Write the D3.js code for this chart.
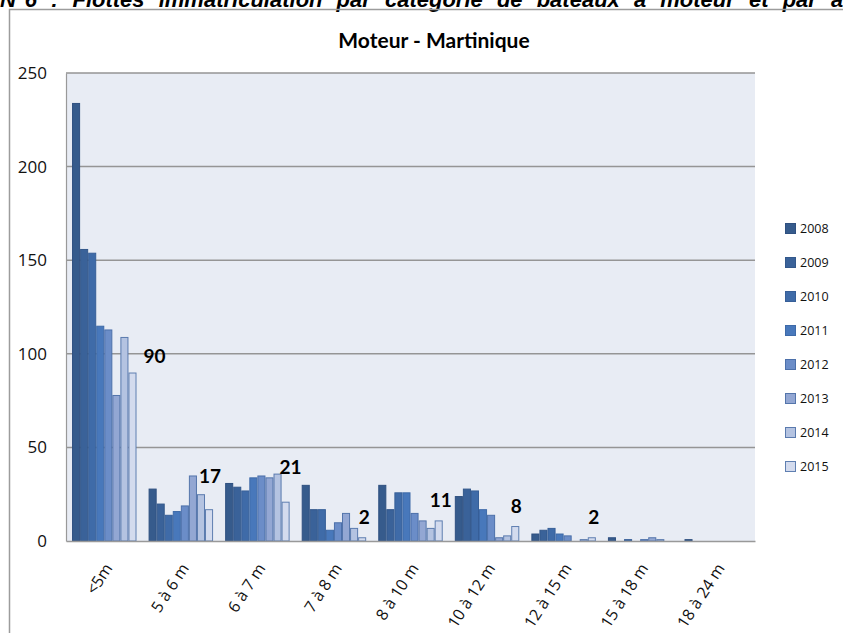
<!DOCTYPE html>
<html>
<head>
<meta charset="utf-8">
<script src="https://cdn.jsdelivr.net/npm/d3@7"></script>
<style>
  body { margin: 0; background: #fff; }
  svg { display: block; }
</style>
</head>
<body>
<svg width="843" height="633"></svg>
<script>
// categories and series
const categories = ["<5m", "5 à 6 m", "6 à 7 m", "7 à 8 m", "8 à 10 m", "10 à 12 m", "12 à 15 m", "15 à 18 m", "18 à 24 m"];
const years = ["2008", "2009", "2010", "2011", "2012", "2013", "2014", "2015"];
const v2008 = [234, 28, 31, 30, 30, 24, 4, 2, 1];
const v2009 = [156, 20, 29, 17, 17, 28, 6, 0, 0];
const v2010 = [154, 14, 27, 17, 26, 27, 7, 1, 0];
const v2011 = [115, 16, 34, 6, 26, 17, 4, 0, 0];
const v2012 = [113, 19, 35, 10, 15, 14, 3, 1, 0];
const v2013 = [78, 35, 34, 15, 11, 2, 0, 2, 0];
const v2014 = [109, 25, 36, 7, 7, 3, 1, 1, 0];
const v2015 = [90, 17, 21, 2, 11, 8, 2, 0, 0];
const yTicks = [0, 50, 100, 150, 200, 250];

const series = [v2008, v2009, v2010, v2011, v2012, v2013, v2014, v2015];

// look
const fills = ["#365b8c", "#3a6299", "#3f6ba8", "#4878bb", "#6b8dc8", "#93a7d3", "#b4c3e1", "#d3dbee"];
const strokes = ["#2f5080", "#33588b", "#375f98", "#3e6aa8", "#4c70aa", "#5475ab", "#5a7aae", "#5f7fb1"];
// manual nudges of the data labels (dx, dy from the 2015 bar top)
const labelNudge = [[22, 16], [1, 33], [5, 34], [2, 20], [2, 20], [1, 20], [2, 20]];

const svg = d3.select("svg");
const font = "'Open Sans', sans-serif";

// heading cut at the top of the picture
svg.append("text")
   .attr("x", 0)
   .attr("y", 7)
   .attr("font-family", "'Liberation Sans', Arial, sans-serif")
   .attr("font-size", "22px")
   .attr("font-weight", "bold")
   .attr("font-style", "italic")
   .attr("word-spacing", "8px")
   .attr("fill", "#000")
   .text("N°6 : Flottes immatriculation par catégorie de bateaux à moteur et par an");

// chart frame
svg.append("path")
   .attr("d", "M9.5,633 L9.5,9.5 L843,9.5")
   .attr("fill", "none")
   .attr("stroke", "#9c9c9c")
   .attr("stroke-width", 1.5);

// title
svg.append("text")
   .attr("x", 434)
   .attr("y", 48)
   .attr("text-anchor", "middle")
   .attr("font-family", "Lato, sans-serif")
   .attr("font-size", "21px")
   .attr("font-weight", "bold")
   .attr("fill", "#000")
   .text("Moteur - Martinique");

const plot = { left: 66, right: 755, top: 73, bottom: 541 };

const x0 = d3.scaleBand()
   .domain(categories)
   .range([plot.left, plot.right])
   .paddingInner(1.5 / 9.5)
   .paddingOuter(0.75 / 9.5);

const x1 = d3.scaleBand()
   .domain(years)
   .range([0, x0.bandwidth()]);

const y = d3.scaleLinear()
   .domain([0, 250])
   .range([plot.bottom, plot.top]);

// plot background
svg.append("rect")
   .attr("x", plot.left)
   .attr("y", plot.top)
   .attr("width", plot.right - plot.left)
   .attr("height", plot.bottom - plot.top)
   .attr("fill", "#e8ecf4");

// gridlines
svg.append("g")
   .selectAll("line")
   .data(yTicks.filter(d => d > 0))
   .join("line")
   .attr("x1", plot.left)
   .attr("x2", plot.right)
   .attr("y1", d => y(d))
   .attr("y2", d => y(d))
   .attr("stroke", "#959595")
   .attr("stroke-width", 1.5);

// y axis labels
const yAxis = svg.append("g")
   .attr("transform", `translate(${plot.left},0)`)
   .call(d3.axisLeft(y).tickValues(yTicks).tickSize(0).tickPadding(19));
yAxis.select(".domain").attr("stroke", "#999").attr("stroke-width", 1.2);
yAxis.selectAll("text")
   .attr("font-family", font)
   .attr("font-size", "17px")
   .attr("fill", "#111");

// bars
const groups = svg.append("g")
   .selectAll("g")
   .data(years)
   .join("g")
   .attr("fill", (d, i) => fills[i])
   .attr("stroke", (d, i) => strokes[i]);

groups.selectAll("rect")
   .data((yr, i) => series[i].map((v, j) => ({ cat: categories[j], yr, v })))
   .join("rect")
   .filter(d => d.v > 0)
   .attr("x", d => x0(d.cat) + x1(d.yr) + 0.5)
   .attr("y", d => y(d.v) + 0.5)
   .attr("width", x1.bandwidth() - 1)
   .attr("height", d => y(0) - y(d.v) - 0.5)
   .attr("stroke-width", 1);

// x axis
const xAxis = svg.append("g")
   .attr("transform", `translate(0,${plot.bottom})`)
   .call(d3.axisBottom(x0).tickSize(0).tickFormat(""));
xAxis.select(".domain").attr("stroke", "#999").attr("stroke-width", 1.5);

svg.append("g")
   .selectAll("text")
   .data(categories)
   .join("text")
   .attr("transform", d => `translate(${x0(d) + x0.bandwidth() / 2 + 4},${plot.bottom + 24}) rotate(-57)`)
   .attr("text-anchor", "end")
   .attr("dy", "0.35em")
   .attr("font-family", font)
   .attr("font-size", "16px")
   .attr("fill", "#111")
   .text(d => d);

// data labels on the 2015 series
svg.append("g")
   .selectAll("text")
   .data(v2015.map((v, j) => ({ cat: categories[j], v, j })).filter(d => d.v > 0))
   .join("text")
   .attr("x", d => x0(d.cat) + x1("2015") + x1.bandwidth() / 2 + labelNudge[d.j][0])
   .attr("y", d => y(d.v) - labelNudge[d.j][1])
   .attr("dy", "0.35em")
   .attr("text-anchor", "middle")
   .attr("font-family", "Lato, sans-serif")
   .attr("font-size", "19px")
   .attr("font-weight", "bold")
   .attr("fill", "#000")
   .text(d => d.v);

// legend
const legend = svg.append("g")
   .selectAll("g")
   .data(years)
   .join("g")
   .attr("transform", (d, i) => `translate(785,${229 + i * 34})`);

legend.append("rect")
   .attr("x", 0.5)
   .attr("y", -5.5)
   .attr("width", 10)
   .attr("height", 10)
   .attr("fill", (d, i) => fills[i])
   .attr("stroke", (d, i) => strokes[i]);

legend.append("text")
   .attr("x", 15)
   .attr("dy", "0.35em")
   .attr("font-family", font)
   .attr("font-size", "12.5px")
   .attr("fill", "#111")
   .text(d => d);
</script>
</body>
</html>
